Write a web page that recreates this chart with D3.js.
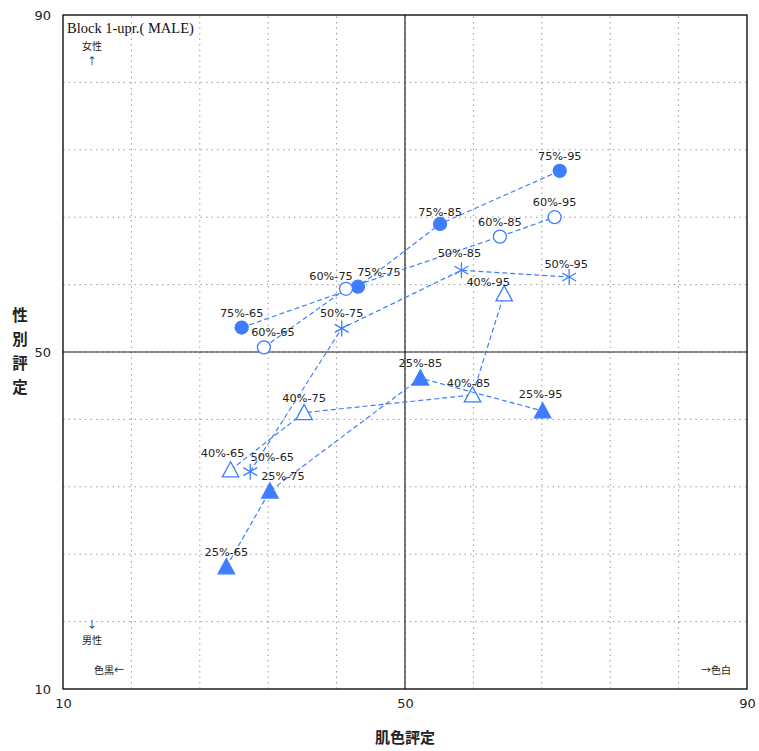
<!DOCTYPE html>
<html>
<head>
<meta charset="utf-8">
<script src="https://cdn.jsdelivr.net/npm/d3@7"></script>
<style>
  html, body { margin: 0; padding: 0; background: #fff; }
  svg { display: block; }
</style>
</head>
<body>
<svg id="chart" width="759" height="751"></svg>
<script>
// Stimulus conditions: lightness percentage series, each measured at four levels
const levels = ["65", "75", "85", "95"];
const seriesNames = ["75%", "60%", "50%", "40%", "25%"];

// Skin-colour rating (x) per series, in level order
const skin75 = [30.9, 44.5, 54.1, 68.1];
const skin60 = [33.5, 43.1, 61.1, 67.5];
const skin50 = [31.9, 42.6, 56.6, 69.2];
const skin40 = [29.6, 38.2, 57.9, 61.6];
const skin25 = [29.1, 34.2, 51.8, 66.1];

// Gender rating (y) per series, in level order
const gender75 = [52.9, 57.75, 65.2, 71.5];
const gender60 = [50.55, 57.5, 63.7, 66.0];
const gender50 = [35.8, 52.8, 59.7, 58.9];
const gender40 = [36.0, 42.8, 44.9, 56.9];
const gender25 = [24.5, 33.5, 46.9, 43.0];

const xTicks = [10, 50, 90];
const yTicks = [10, 50, 90];
const gridStep = 8;

const skinBySeries = [skin75, skin60, skin50, skin40, skin25];
const genderBySeries = [gender75, gender60, gender50, gender40, gender25];
const markerBySeries = ["circleFilled", "circleOpen", "asterisk", "triangleOpen", "triangleFilled"];

// Label nudges (px) relative to the default spot above a marker
const labelNudge = {
  "60%-65": [9, 0], "60%-75": [-15, 2], "75%-75": [21, 0], "50%-65": [22, 0],
  "25%-75": [13, 0], "40%-65": [-8, -2], "40%-85": [-4, 3], "40%-95": [-16, 3],
  "50%-95": [-3, 2], "75%-85": [0, 3], "25%-95": [-2, -2], "50%-85": [-2, -2]
};

const W = 759, H = 751;
const margin = { left: 63, right: 12, top: 15, bottom: 62 };
const svg = d3.select("#chart");
const blue = "#3f7dff";

const x = d3.scaleLinear().domain([10, 90]).range([margin.left, W - margin.right]);
const y = d3.scaleLinear().domain([10, 90]).range([H - margin.bottom, margin.top]);

// Dotted grid
const gridVals = d3.range(10 + gridStep, 90, gridStep);
const grid = svg.append("g");
grid.selectAll("line.gx").data(gridVals).join("line")
  .attr("x1", d => x(d)).attr("x2", d => x(d))
  .attr("y1", y(10)).attr("y2", y(90))
  .attr("stroke", "#9a9a9a").attr("stroke-width", 1).attr("stroke-dasharray", "1.5,4");
grid.selectAll("line.gy").data(gridVals).join("line")
  .attr("y1", d => y(d)).attr("y2", d => y(d))
  .attr("x1", x(10)).attr("x2", x(90))
  .attr("stroke", "#9a9a9a").attr("stroke-width", 1).attr("stroke-dasharray", "1.5,4");

// Centre cross lines
svg.append("line").attr("x1", x(50)).attr("x2", x(50)).attr("y1", y(10)).attr("y2", y(90))
  .attr("stroke", "#222").attr("stroke-width", 1.2);
svg.append("line").attr("y1", y(50)).attr("y2", y(50)).attr("x1", x(10)).attr("x2", x(90))
  .attr("stroke", "#222").attr("stroke-width", 1.2);

// Frame
svg.append("rect").attr("x", x(10)).attr("y", y(90))
  .attr("width", x(90) - x(10)).attr("height", y(10) - y(90))
  .attr("fill", "none").attr("stroke", "#111").attr("stroke-width", 1.4);

// Axes (labels only)
const xAxis = d3.axisBottom(x).tickValues(xTicks).tickSize(0).tickPadding(10);
const yAxis = d3.axisLeft(y).tickValues(yTicks).tickSize(0).tickPadding(12);
const gx = svg.append("g").attr("transform", `translate(0,${y(10)})`).call(xAxis);
const gy = svg.append("g").attr("transform", `translate(${x(10)},0)`).call(yAxis);
[gx, gy].forEach(g => {
  g.select(".domain").remove();
  g.selectAll("text").attr("font-family", "'DejaVu Sans', sans-serif")
    .attr("font-size", 13).attr("fill", "#222");
});

// Axis titles
svg.append("text").attr("x", x(50)).attr("y", 743).attr("text-anchor", "middle")
  .attr("font-family", "'Noto Sans CJK JP', sans-serif").attr("font-size", 15)
  .attr("font-weight", "bold").attr("fill", "#222").text("肌色評定");
const yTitle = svg.append("text").attr("text-anchor", "middle")
  .attr("font-family", "'Noto Sans CJK JP', sans-serif").attr("font-size", 15.5)
  .attr("font-weight", "bold").attr("fill", "#222");
Array.from("性別評定").forEach((ch, i) => {
  yTitle.append("tspan").attr("x", 20).attr("y", 321 + i * 24).text(ch);
});

// Corner annotations
const note = (tx, ty, t, anchor) => svg.append("text").attr("x", tx).attr("y", ty)
  .attr("text-anchor", anchor || "middle")
  .attr("font-family", "'Noto Sans CJK JP', sans-serif").attr("font-size", 10)
  .attr("fill", "#222").text(t);
note(92, 50, "女性");
note(92, 65, "↑");
note(92, 628, "↓");
note(92, 644, "男性");
note(109, 674, "色黒←");
note(716, 674, "→色白");

svg.append("text").attr("x", 67).attr("y", 33)
  .attr("font-family", "'Liberation Serif', 'Times New Roman', serif").attr("font-size", 14.5)
  .attr("fill", "#111").text("Block 1-upr.( MALE)");

// Series lines and markers
const line = d3.line().x(d => x(d.sx)).y(d => y(d.gy));
const plot = svg.append("g");

seriesNames.forEach((name, si) => {
  const pts = levels.map((lv, li) => ({
    sx: skinBySeries[si][li], gy: genderBySeries[si][li], label: `${name}-${lv}`
  }));
  plot.append("path").datum(pts).attr("d", line)
    .attr("fill", "none").attr("stroke", blue).attr("stroke-width", 1.2)
    .attr("stroke-dasharray", "5,3");

  const kind = markerBySeries[si];
  pts.forEach(p => {
    const cx = x(p.sx), cy = y(p.gy);
    if (kind === "circleFilled" || kind === "circleOpen") {
      plot.append("circle").attr("cx", cx).attr("cy", cy).attr("r", 6.5)
        .attr("fill", kind === "circleFilled" ? blue : "#fff")
        .attr("stroke", blue).attr("stroke-width", 1.3);
    } else if (kind === "triangleFilled" || kind === "triangleOpen") {
      const s = 8.2;
      const tri = [[cx, cy - s], [cx + s, cy + s * 0.85], [cx - s, cy + s * 0.85]];
      plot.append("path").attr("d", d3.line()(tri) + "Z")
        .attr("fill", kind === "triangleFilled" ? blue : "#fff")
        .attr("stroke", blue).attr("stroke-width", 1.3);
    } else {
      const r = 8;
      [90, 30, -30].forEach(a => {
        const rad = a * Math.PI / 180;
        plot.append("line")
          .attr("x1", cx - r * Math.cos(rad)).attr("y1", cy - r * Math.sin(rad))
          .attr("x2", cx + r * Math.cos(rad)).attr("y2", cy + r * Math.sin(rad))
          .attr("stroke", blue).attr("stroke-width", 1.3);
      });
    }
    const nudge = labelNudge[p.label] || [0, 0];
    plot.append("text").attr("x", cx + nudge[0]).attr("y", cy - 11 + nudge[1])
      .attr("text-anchor", "middle")
      .attr("font-family", "'DejaVu Sans', sans-serif").attr("font-size", 11.3)
      .attr("fill", "#222").text(p.label);
  });
});
</script>
</body>
</html>
